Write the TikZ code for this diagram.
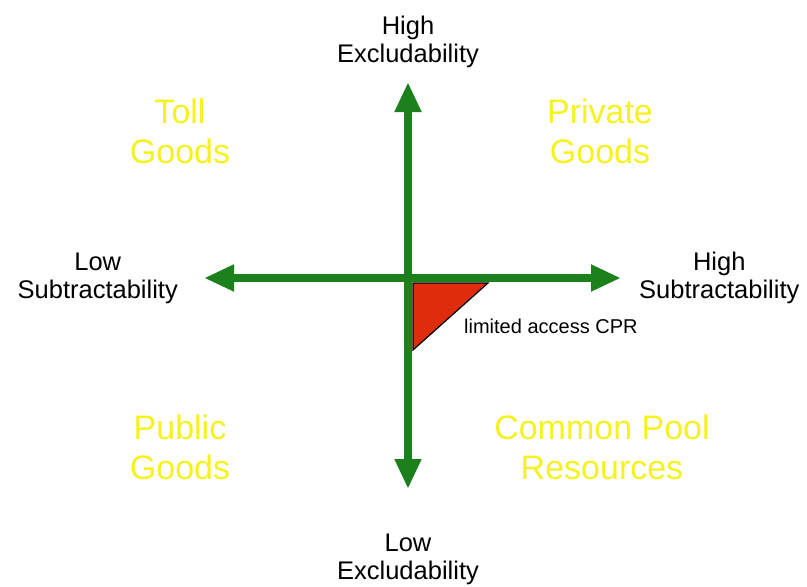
\documentclass[tikz,border=0pt]{standalone}
\usepackage{fontspec}
\setmainfont{Liberation Sans}
\usepackage{tikz}
\usetikzlibrary{arrows.meta,positioning}
\definecolor{axisgreen}{RGB}{28,128,28}
\definecolor{goodsyellow}{RGB}{246,242,30}
\definecolor{cprred}{RGB}{222,44,12}
\tikzstyle{axis} = [line width=7.5pt, draw=axisgreen, {Triangle[length=30pt,width=25pt]}-{Triangle[length=30pt,width=25pt]}]
\tikzstyle{axislabel} = [align=center, inner sep=0pt, font=\fontsize{25.5}{28}\selectfont]
\tikzstyle{goods} = [align=center, inner sep=0pt, text=goodsyellow, font=\fontsize{34}{40}\selectfont]
\tikzstyle{cpr} = [fill=cprred, draw=black, line width=1.2pt]

\begin{document}
\begin{tikzpicture}[x=1pt, y=-1pt, node distance=20pt]
\useasboundingbox (0,0) rectangle (807,587);
% axis end points
\coordinate (top) at (408,82);
\coordinate (bottom) at (408,489);
\coordinate (left) at (204,278);
\coordinate (right) at (621,278);

% limited access corner
\draw[cpr] (413,283) -- (488,283) -- (413,350) -- cycle;

\draw[axis] (bottom) -- (top);
\draw[axis] (left) -- (right);

\node[axislabel, above=14pt of top] (hiexcl) {High\\Excludability};
\node[axislabel, below=45pt of bottom] (loexcl) {Low\\Excludability};
\node[axislabel, left=26pt of left] (losub) {Low\\Subtractability};
\node[axislabel, right=18pt of right] (hisub) {High\\Subtractability};

\node[goods] (toll) at (180,131) {Toll\\Goods};
\node[goods] (private) at (600,131) {Private\\Goods};
\node[goods] (public) at (180,447) {Public\\Goods};
\node[goods] (cpool) at (602,447) {Common Pool\\Resources};

\node[anchor=west, inner sep=0pt, font=\fontsize{20}{22}\selectfont] (cprlabel) at (464,326) {limited access CPR};
\end{tikzpicture}
\end{document}
